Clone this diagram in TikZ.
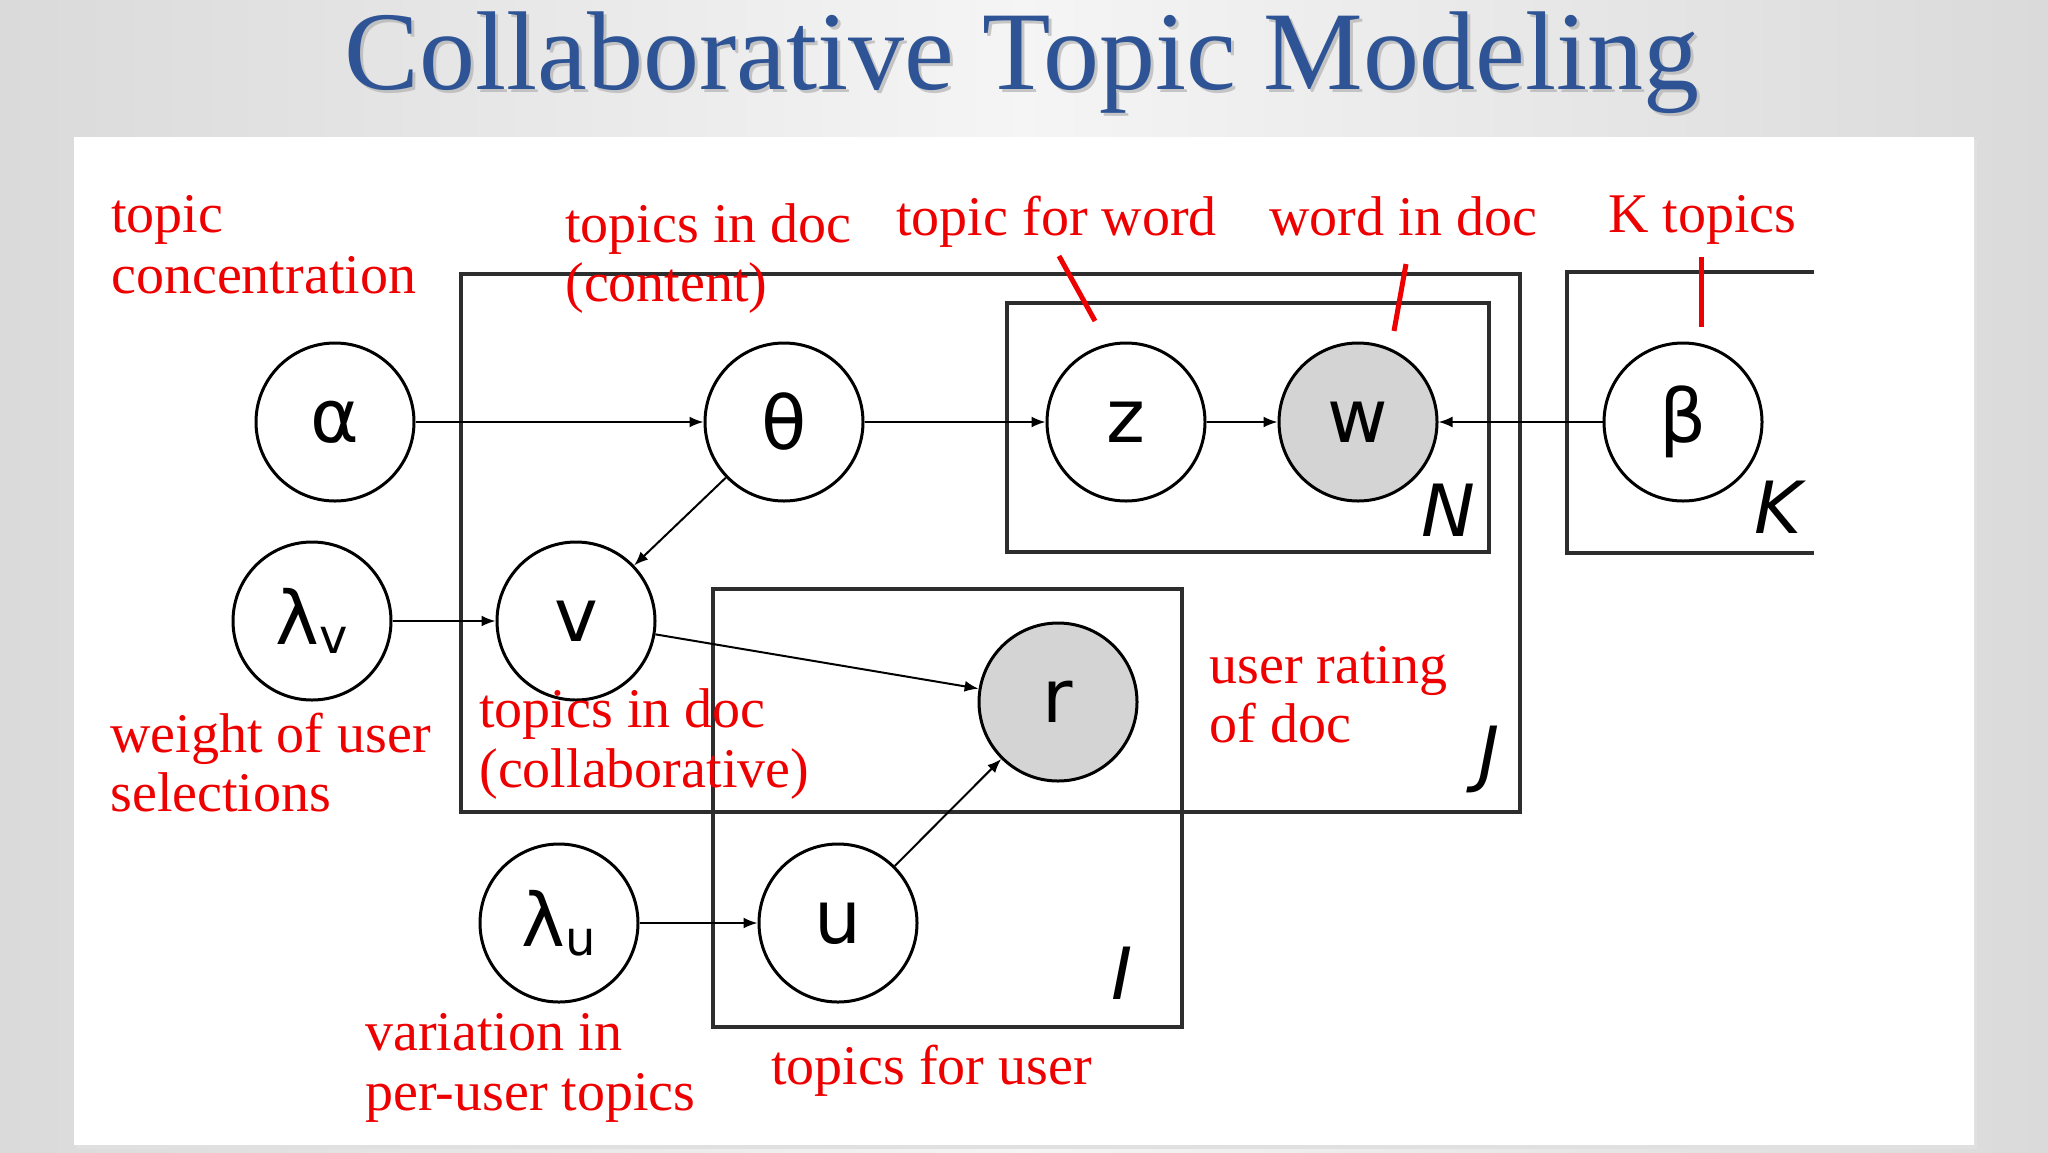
\documentclass[tikz,border=0pt]{standalone}
\usepackage{fontspec}
\setmainfont{Liberation Serif}
\newfontfamily\gfont{DejaVu Sans}
\usetikzlibrary{arrows.meta}
\definecolor{titleblue}{RGB}{46,84,150}
\definecolor{lblred}{RGB}{238,0,0}
\definecolor{obsgray}{RGB}{212,212,212}
\definecolor{plategray}{RGB}{45,45,45}
\definecolor{bgedge}{RGB}{218,218,218}
\begin{document}
\begin{tikzpicture}[x=0.5pt,y=-0.5pt,
  var/.style={circle,draw=black,line width=1.5pt,minimum size=79pt,inner sep=0pt,
    font=\gfont\fontsize{37}{37}\selectfont,fill=white},
  obs/.style={var,fill=obsgray},
  plate/.style={draw=plategray,line width=2pt},
  edge/.style={line width=1pt,-{Latex[length=7pt,width=5.5pt]}},
  lbl/.style={anchor=base west,text=lblred,font=\fontsize{28}{30}\selectfont,inner sep=0pt},
  tick/.style={draw=lblred,line width=2.5pt},
  platelbl/.style={font=\gfont\itshape\fontsize{36}{36}\selectfont,inner sep=0pt}]
% background
\shade[left color=bgedge,right color=bgedge,middle color=white!96!black] (0,0) rectangle (2048,1152);
\useasboundingbox (0,0) rectangle (2048,1152);
% title
\node[anchor=base,text=black!30,opacity=0.7,font=\fontsize{56}{60}\selectfont,inner sep=0pt] (titleshadow) at (1025,92) {Collaborative Topic Modeling};
\node[anchor=base,text=titleblue,font=\fontsize{56}{60}\selectfont,inner sep=0pt] (title) at (1022,89) {Collaborative Topic Modeling};
% panel
\fill[black!12] (77,140) rectangle (1977,1149);
\fill[white] (74,137) rectangle (1974,1145);
% plates
\draw[plate] (461,274) rectangle (1520,812);
\draw[plate] (1007,303) rectangle (1489,552);
\draw[plate] (1814,272) -- (1567,272) -- (1567,553) -- (1814,553);
\draw[plate] (713,589) rectangle (1182,1027);
% plate labels
\node[platelbl] (Nlab) at (1448,510) {N};
\node[platelbl] (Klab) at (1778,507) {K};
\node[platelbl] (Jlab) at (1489,759) {J};
\node[platelbl] (Ilab) at (1122,973) {I};
% variables
\node[var] (alpha) at (335,422) {α};
\node[var] (theta) at (784,422) {θ};
\node[var] (z) at (1126,422) {z};
\node[obs] (w) at (1358,422) {w};
\node[var] (beta) at (1683,422) {β};
\node[var] (lv) at (312,621) {λ\raisebox{-0.22ex}{\fontsize{24}{24}\selectfont v}};
\node[var] (v) at (576,621) {v};
\node[obs] (r) at (1058,702) {r};
\node[var] (lu) at (559,923) {λ\raisebox{-0.22ex}{\fontsize{24}{24}\selectfont u}};
\node[var] (u) at (838,923) {u};
% edges
\draw[edge] (alpha) -- (theta);
\draw[edge] (theta) -- (z);
\draw[edge] (z) -- (w);
\draw[edge] (beta) -- (w);
\draw[edge] (theta) -- (v);
\draw[edge] (lv) -- (v);
\draw[edge] (v) -- (r);
\draw[edge] (lu) -- (u);
\draw[edge] (u) -- (r);
% red ticks
\draw[tick] (1059,256) -- (1095,321);
\draw[tick] (1406,264) -- (1394,331);
\draw[tick] (1701,257) -- (1701,327);
% red labels
\node[lbl] (l1a) at (111,232) {topic};
\node[lbl] (l1b) at (111,293) {concentration};
\node[lbl] (l2a) at (565,242) {topics in doc};
\node[lbl] (l2b) at (565,301) {(content)};
\node[lbl] (l3) at (896,235) {topic for word};
\node[lbl] (l4) at (1269,235) {word in doc};
\node[lbl] (l5) at (1608,232) {K topics};
\node[lbl] (l6a) at (110,752) {weight of user};
\node[lbl] (l6b) at (110,811) {selections};
\node[lbl] (l7a) at (479,727) {topics in doc};
\node[lbl] (l7b) at (479,787) {(collaborative)};
\node[lbl] (l8a) at (1209,683) {user rating};
\node[lbl] (l8b) at (1209,742) {of doc};
\node[lbl] (l9a) at (365,1050) {variation in};
\node[lbl] (l9b) at (365,1110) {per-user topics};
\node[lbl] (l10) at (771,1084) {topics for user};
\end{tikzpicture}
\end{document}
